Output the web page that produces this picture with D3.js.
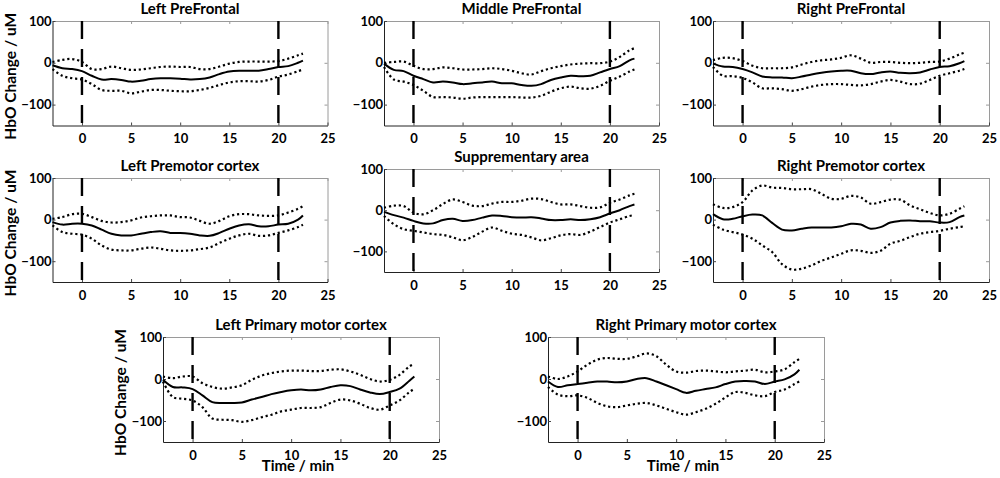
<!DOCTYPE html>
<html>
<head>
<meta charset='utf-8'>
<title>HbO Change</title>
<script src='https://cdn.jsdelivr.net/npm/d3@7/dist/d3.min.js'></script>
<style>
  body { margin: 0; background: #fff; }
  text { font-family: Lato, 'Open Sans', sans-serif; font-weight: bold; fill: #000; }
</style>
</head>
<body>
<svg width='1000' height='478'></svg>
<script>
// sample times (min)
const time = [-3, -2, -1, 0, 1, 2, 3, 4, 5, 6, 7, 8, 9, 10, 11, 12, 13, 14, 15, 16, 17, 18, 19, 20, 21, 22, 22.5]
const xTicks = [0, 5, 10, 15, 20, 25]
const yTicks = [-100, 0, 100]
const stimulus = [0, 20]

const titles = ['Left PreFrontal', 'Middle PreFrontal', 'Right PreFrontal',
  'Left Premotor cortex', 'Supprementary area', 'Right Premotor cortex',
  'Left Primary motor cortex', 'Right Primary motor cortex']

// mean, upper and lower bound per region (uM)
const leftPFMean = [-6, -13, -15, -20, -31, -40, -39, -41, -45, -43, -39, -37, -37, -38, -40, -39, -35, -27, -21, -19, -19, -19, -15, -10, -8, 0, 5]
const leftPFUpper = [2, 7, 9, 2, -15, -15, -9, -13, -17, -16, -13, -10, -9, -10, -10, -15, -15, -9, -2, 2, 3, 3, 3, 4, 10, 18, 22]
const leftPFLower = [-15, -31, -37, -40, -51, -65, -67, -67, -73, -69, -65, -65, -67, -68, -68, -65, -60, -53, -47, -44, -44, -45, -41, -33, -28, -20, -16]

const midPFMean = [-2, -17, -20, -31, -39, -47, -45, -47, -51, -49, -47, -45, -49, -49, -53, -55, -51, -41, -35, -31, -32, -31, -23, -15, -8, 6, 10]
const midPFUpper = [0, 2, 3, -7, -15, -15, -11, -13, -16, -16, -15, -13, -15, -19, -25, -28, -20, -13, -8, -4, -2, -1, -1, 3, 14, 30, 35]
const midPFLower = [-10, -40, -45, -53, -67, -82, -82, -83, -86, -83, -82, -82, -82, -82, -83, -83, -79, -69, -61, -57, -61, -62, -55, -43, -33, -21, -16]

const rightPFMean = [-2, -9, -10, -15, -23, -33, -35, -35, -37, -33, -28, -24, -21, -19, -19, -25, -27, -23, -21, -24, -25, -23, -16, -10, -8, -1, 4]
const rightPFUpper = [6, 12, 11, 4, -7, -13, -13, -13, -11, -4, 2, 6, 8, 12, 18, 10, 0, 2, 2, 0, -1, 0, 2, 3, 10, 20, 24]
const rightPFLower = [-10, -31, -32, -36, -47, -61, -61, -63, -67, -63, -57, -53, -51, -51, -53, -54, -51, -45, -41, -45, -51, -50, -41, -31, -25, -19, -15]

const leftPMMean = [-6, -12, -10, -10, -14, -24, -34, -38, -38, -34, -30, -28, -32, -32, -34, -38, -39, -32, -22, -14, -11, -16, -16, -12, -10, 0, 10]
const leftPMUpper = [2, 6, 13, 14, 6, -3, -7, -6, -2, 5, 8, 10, 10, 6, 5, -3, -10, -3, 8, 13, 13, 10, 9, 10, 17, 26, 32]
const leftPMLower = [-14, -30, -34, -36, -46, -62, -72, -74, -74, -70, -67, -70, -74, -75, -74, -71, -67, -56, -46, -38, -34, -39, -38, -32, -26, -18, -12]

const suppMean = [-4, -12, -18, -26, -32, -32, -24, -21, -26, -24, -18, -13, -14, -17, -18, -17, -20, -24, -24, -22, -24, -22, -17, -8, 0, 10, 14]
const suppUpper = [6, 11, 10, -6, -10, 0, 15, 26, 20, 11, 10, 16, 20, 20, 23, 28, 27, 20, 14, 14, 10, 6, 7, 18, 26, 36, 40]
const suppLower = [-14, -34, -46, -50, -54, -58, -60, -66, -73, -65, -52, -42, -50, -57, -60, -66, -73, -68, -61, -58, -60, -52, -41, -30, -22, -14, -12]

const rightPMMean = [13, 1, 2, 8, 12, 10, -8, -24, -26, -22, -19, -19, -19, -16, -10, -12, -22, -18, -7, -3, -2, -4, -4, -7, -6, 6, 10]
const rightPMUpper = [37, 28, 30, 42, 70, 82, 77, 76, 73, 73, 73, 62, 50, 50, 57, 53, 38, 42, 48, 48, 34, 25, 16, 10, 14, 26, 32]
const rightPMLower = [-12, -24, -30, -36, -46, -62, -78, -107, -120, -118, -110, -99, -91, -82, -74, -75, -80, -75, -58, -51, -42, -34, -30, -27, -22, -18, -16]

const leftM1Mean = [-2, -19, -20, -24, -39, -55, -57, -57, -56, -49, -43, -36, -31, -27, -25, -27, -25, -19, -15, -17, -25, -32, -36, -31, -23, -4, 6]
const leftM1Upper = [6, 2, 6, 6, -10, -19, -23, -20, -15, -2, 8, 14, 18, 20, 20, 19, 19, 22, 23, 18, 10, 0, -6, -2, 10, 30, 36]
const leftM1Lower = [-6, -43, -47, -51, -67, -94, -97, -98, -102, -98, -91, -85, -77, -73, -69, -69, -67, -57, -49, -51, -59, -69, -73, -63, -51, -31, -23]

const rightM1Mean = [-6, -19, -15, -12, -9, -6, -6, -8, -6, 0, 2, -6, -15, -24, -33, -28, -24, -20, -12, -6, -5, -6, -12, -6, -1, 11, 22]
const rightM1Upper = [6, 0, 6, 18, 34, 46, 50, 48, 48, 54, 61, 54, 34, 18, 15, 19, 20, 18, 16, 18, 20, 22, 16, 18, 23, 40, 48]
const rightM1Lower = [-19, -37, -41, -39, -45, -57, -65, -67, -63, -59, -57, -63, -71, -79, -85, -79, -71, -59, -44, -31, -33, -39, -41, -31, -25, -12, -6]

const means = [leftPFMean, midPFMean, rightPFMean, leftPMMean, suppMean, rightPMMean, leftM1Mean, rightM1Mean]
const uppers = [leftPFUpper, midPFUpper, rightPFUpper, leftPMUpper, suppUpper, rightPMUpper, leftM1Upper, rightM1Upper]
const lowers = [leftPFLower, midPFLower, rightPFLower, leftPMLower, suppLower, rightPMLower, leftM1Lower, rightM1Lower]

// panel boxes in page pixels
const layout = [
  { x: 52.5, y: 21, w: 275, h: 104.5, ylab: true },
  { x: 384, y: 21, w: 275, h: 104.5 },
  { x: 713, y: 21, w: 276, h: 104.5 },
  { x: 52.5, y: 178, w: 275, h: 104, ylab: true },
  { x: 384, y: 169, w: 275, h: 103 },
  { x: 713, y: 178, w: 276, h: 104 },
  { x: 163, y: 337, w: 276, h: 105, ylab: true, xlab: true },
  { x: 548, y: 337, w: 276, h: 105, xlab: true }
]

const svg = d3.select('svg')

layout.forEach((p, i) => {
  const g = svg.append('g').attr('transform', `translate(${p.x},${p.y})`)
  const x = d3.scaleLinear().domain([-3, 25]).range([0, p.w])
  const y = d3.scaleLinear().domain([-150, 100]).range([p.h, 0])

  // box: top and right lighter
  g.append('g').attr('class', 'ax')
    .call(d3.axisTop(x).tickValues(xTicks).tickSizeInner(-3).tickSizeOuter(0).tickFormat(''))
  g.append('g').attr('class', 'ax').attr('transform', `translate(${p.w},0)`)
    .call(d3.axisRight(y).tickValues(yTicks).tickSizeInner(-3).tickSizeOuter(0).tickFormat(''))
  g.selectAll('.ax path, .ax line').attr('stroke', '#9a9a9a').attr('stroke-width', 1)

  const bx = g.append('g').attr('transform', `translate(0,${p.h})`)
    .call(d3.axisBottom(x).tickValues(xTicks).tickSizeInner(-3).tickSizeOuter(0).tickPadding(8.5))
  const by = g.append('g')
    .call(d3.axisLeft(y).tickValues(yTicks).tickSizeInner(-3).tickSizeOuter(0).tickPadding(1))
  for (const a of [bx, by]) {
    a.selectAll('path, line').attr('stroke', '#444').attr('stroke-width', 1)
    a.selectAll('text').attr('font-size', 13).attr('font-family', null).attr('fill', '#000')
  }
  bx.select('.domain').attr('stroke', '#222')
  by.select('.domain').attr('stroke', '#222')

  // stimulus on/off
  g.selectAll('line.stim').data(stimulus).join('line')
    .attr('class', 'stim')
    .attr('x1', d => x(d)).attr('x2', d => x(d))
    .attr('y1', 0).attr('y2', p.h)
    .attr('stroke', '#000').attr('stroke-width', 2.4)
    .attr('stroke-dasharray', '18,10')

  const line = d3.line().x((d, k) => x(time[k])).y(d => y(d)).curve(d3.curveCatmullRom)

  for (const band of [uppers[i], lowers[i]]) {
    g.append('path').attr('d', line(band))
      .attr('fill', 'none').attr('stroke', '#000').attr('stroke-width', 2.2)
      .attr('stroke-dasharray', '2.2,2.8')
  }
  g.append('path').attr('d', line(means[i]))
    .attr('fill', 'none').attr('stroke', '#000').attr('stroke-width', 2)

  g.append('text').attr('x', p.w / 2).attr('y', -7)
    .attr('text-anchor', 'middle').attr('font-size', 15)
    .text(titles[i])

  if (p.ylab) {
    g.append('text')
      .attr('transform', `translate(${-37},${p.h / 2 + 3}) rotate(-90)`)
      .attr('text-anchor', 'middle').attr('font-size', 15.5)
      .text('HbO Change / uM')
  }
  if (p.xlab) {
    g.append('text').attr('x', p.w / 2 - 3).attr('y', p.h + 29)
      .attr('text-anchor', 'middle').attr('font-size', 15)
      .text('Time / min')
  }
})
</script>
</body>
</html>
